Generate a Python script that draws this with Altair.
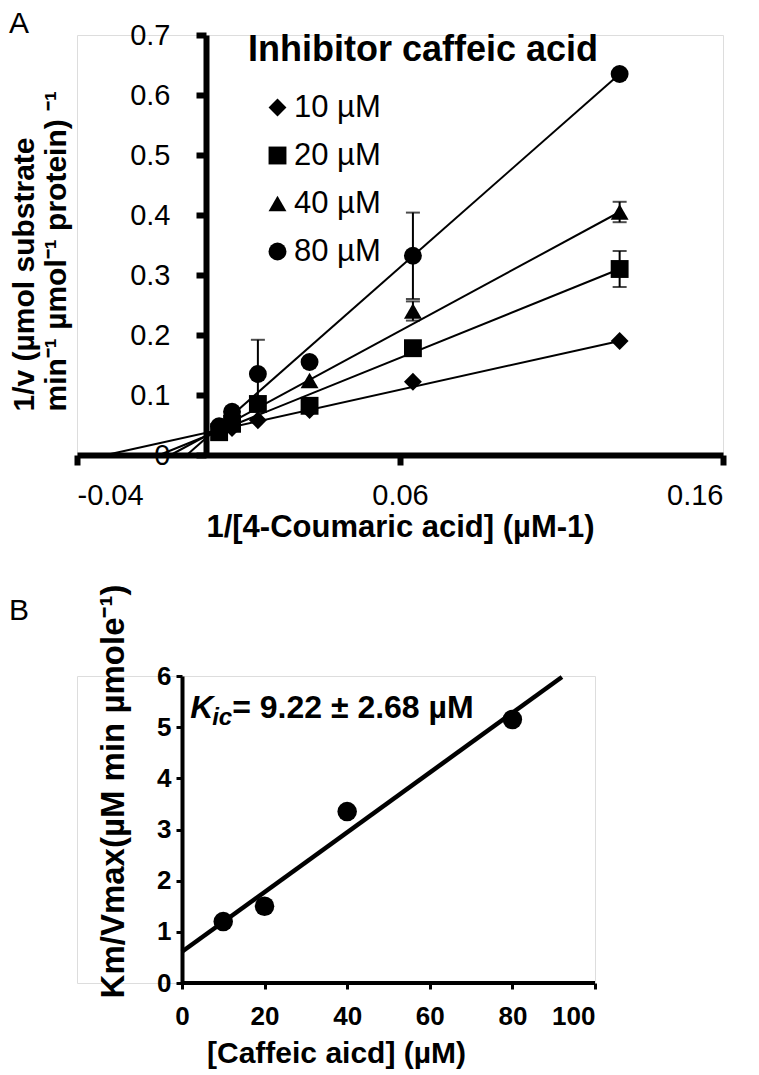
import altair as alt
import pandas as pd

# ---------------- Panel A data ----------------
inv_substrate = [0.004, 0.008, 0.016, 0.032, 0.064, 0.128]
series_labels = ["10 µM", "20 µM", "40 µM", "80 µM"]
series_shapes = ["diamond", "square", "triangle-up", "circle"]
inv_v_10 = [0.040, 0.045, 0.058, 0.075, 0.122, 0.190]
inv_v_20 = [0.038, 0.052, 0.085, 0.082, 0.178, 0.310]
inv_v_40 = [0.045, 0.060, 0.085, 0.124, 0.240, 0.405]
inv_v_80 = [0.048, 0.072, 0.135, 0.155, 0.332, 0.635]
err_10 = [0, 0, 0, 0, 0, 0]
err_20 = [0, 0, 0, 0, 0, 0.030]
err_40 = [0, 0, 0, 0, 0.016, 0.017]
err_80 = [0, 0, 0.057, 0, 0.072, 0]
fit_x_start = [-0.031, -0.0145, -0.011, -0.006]
fit_x_end = [0.128, 0.128, 0.128, 0.128]
fit_y_end = [0.190, 0.310, 0.405, 0.635]
x_ticks_a = [-0.04, 0.06, 0.16]
y_ticks_a = [0, 0.1, 0.2, 0.3, 0.4, 0.5, 0.6, 0.7]

# ---------------- Panel B data ----------------
caffeic = [10, 20, 40, 80]
km_vmax = [1.2, 1.5, 3.35, 5.15]
fit_b_x = [0, 92]
fit_b_y = [0.61, 5.98]
x_ticks_b = [0, 20, 40, 60, 80, 100]
y_ticks_b = [0, 1, 2, 3, 4, 5, 6]

FONT = "Liberation Sans"

# ---------- build tables ----------
vals = [inv_v_10, inv_v_20, inv_v_40, inv_v_80]
errs = [err_10, err_20, err_40, err_80]
rows = []
for lab, v, e in zip(series_labels, vals, errs):
    for x, y, err in zip(inv_substrate, v, e):
        rows.append({"x": x, "y": y, "series": lab, "lo": y - err, "hi": y + err, "err": err})
df_a = pd.DataFrame(rows)
df_err = df_a[df_a["err"] > 0]
df_fit = pd.DataFrame({
    "series": series_labels,
    "x0": fit_x_start, "y0": [0.0] * 4,
    "x1": fit_x_end, "y1": fit_y_end,
})

xs_a = alt.Scale(domain=[x_ticks_a[0], x_ticks_a[-1]], nice=False, zero=False)
ys_a = alt.Scale(domain=[y_ticks_a[0], y_ticks_a[-1]], nice=False, zero=False)

x_axis_a = alt.Axis(values=x_ticks_a, grid=False, domainWidth=6, domainColor="black",
                    labelExpr="datum.value < 0 ? '-' + format(-datum.value, '.2f') : format(datum.value, '.2f')",
                    tickWidth=6, tickSize=10, tickColor="black", labelFontSize=29, labelFont=FONT,
                    labelPadding=16, labelColor="black", title="1/[4-Coumaric acid] (µM-1)",
                    titleFont=FONT, titleFontSize=31, titleFontWeight="bold", titlePadding=2,
                    titleColor="black")
y_axis_a = alt.Axis(values=y_ticks_a, format=".1~f", grid=False, offset=-129, domainWidth=6,
                    domainColor="black", tickWidth=6, tickSize=10, tickColor="black",
                    labelFontSize=29, labelFont=FONT, labelPadding=26, labelColor="black",
                    title=["1/v (µmol substrate", "min⁻¹ µmol⁻¹ protein) ⁻¹"],
                    titleFont=FONT, titleFontSize=30, titleFontWeight="bold", titlePadding=58,
                    titleLineHeight=32, titleY=376, titleAlign="left", titleColor="black")

fits_a = alt.Chart(df_fit).mark_rule(color="black", strokeWidth=2).encode(
    x=alt.X("x0:Q", scale=xs_a, axis=x_axis_a),
    y=alt.Y("y0:Q", scale=ys_a, axis=y_axis_a),
    x2="x1:Q", y2="y1:Q",
)
err_rule = alt.Chart(df_err).mark_rule(color="black", strokeWidth=2).encode(
    x=alt.X("x:Q", scale=xs_a), y=alt.Y("lo:Q", scale=ys_a), y2="hi:Q")
cap_hi = alt.Chart(df_err).mark_tick(color="black", orient="horizontal", size=14, thickness=2).encode(
    x=alt.X("x:Q", scale=xs_a), y=alt.Y("hi:Q", scale=ys_a))
cap_lo = alt.Chart(df_err).mark_tick(color="black", orient="horizontal", size=14, thickness=2).encode(
    x=alt.X("x:Q", scale=xs_a), y=alt.Y("lo:Q", scale=ys_a))
pts_a = alt.Chart(df_a).mark_point(filled=True, color="black", opacity=1, size=320).encode(
    x=alt.X("x:Q", scale=xs_a),
    y=alt.Y("y:Q", scale=ys_a),
    shape=alt.Shape("series:N", scale=alt.Scale(domain=series_labels, range=series_shapes),
                    legend=alt.Legend(title="Inhibitor caffeic acid", orient="none", legendX=171, legendY=-2,
                                      titleFont=FONT, titleFontSize=36, titleFontWeight="bold",
                                      titleColor="black", titlePadding=23, titleLimit=800, labelFont=FONT,
                                      labelFontSize=31, labelColor="black", symbolSize=320,
                                      symbolFillColor="black", symbolStrokeColor="black",
                                      symbolOffset=14, labelOffset=1, rowPadding=16, padding=0)),
)

panel_a = alt.layer(fits_a, err_rule, cap_hi, cap_lo, pts_a).properties(
    width=646, height=420,
    title=alt.TitleParams("A", anchor="start", frame="group", dx=-68, fontSize=30, fontWeight="normal",
                          font=FONT, color="black", offset=-18),
)

# ---------------- Panel B ----------------
df_b = pd.DataFrame({"conc": caffeic, "kv": km_vmax})
df_fit_b = pd.DataFrame({"x0": [fit_b_x[0]], "y0": [fit_b_y[0]], "x1": [fit_b_x[1]], "y1": [fit_b_y[1]]})
df_axis_b = pd.DataFrame({"x0": [x_ticks_b[0]], "x1": [x_ticks_b[-1]], "y": [y_ticks_b[0]]})

xs_b = alt.Scale(domain=[-25.4, 100], nice=False, zero=False)
ys_b = alt.Scale(domain=[0, 6], nice=False, zero=False)

x_axis_b = alt.Axis(values=x_ticks_b, format="d", grid=False, domain=False, tickWidth=3, tickSize=6,
                    tickColor="black", labelFont=FONT, labelFontSize=26, labelFontWeight="bold",
                    labelColor="black", labelPadding=14, title="[Caffeic aicd] (µM)", titleFont=FONT,
                    titleFontSize=30, titleFontWeight="bold", titleColor="black", titlePadding=9)
y_axis_b = alt.Axis(values=y_ticks_b, format="d", grid=False, offset=-105, domainWidth=4,
                    domainColor="black", tickWidth=3, tickSize=6, tickColor="black",
                    labelFont=FONT, labelFontSize=26, labelFontWeight="bold", labelColor="black",
                    labelPadding=5, title="Km/Vmax(µM min µmole⁻¹)", titleFont=FONT,
                    titleFontSize=33, titleFontWeight="bold", titleColor="black", titlePadding=26,
                    titleY=115)

axis_line_b = alt.Chart(df_axis_b).mark_rule(color="black", strokeWidth=4).encode(
    x=alt.X("x0:Q", scale=xs_b, axis=x_axis_b), x2="x1:Q",
    y=alt.Y("y:Q", scale=ys_b, axis=y_axis_b))
fit_b = alt.Chart(df_fit_b).mark_rule(color="black", strokeWidth=4.5).encode(
    x=alt.X("x0:Q", scale=xs_b), y=alt.Y("y0:Q", scale=ys_b), x2="x1:Q", y2="y1:Q")
pts_b = alt.Chart(df_b).mark_circle(color="black", opacity=1, size=380).encode(
    x=alt.X("conc:Q", scale=xs_b), y=alt.Y("kv:Q", scale=ys_b))

ann_base = alt.Chart(pd.DataFrame({"a": [0]}))
k_text = ann_base.mark_text(text="K", align="left", baseline="alphabetic", font=FONT, fontSize=32,
                            fontWeight="bold", fontStyle="italic", color="black").encode(
    x=alt.datum(2, scale=xs_b), y=alt.datum(5.18, scale=ys_b))
ic_text = ann_base.mark_text(text="ic", align="left", baseline="alphabetic", font=FONT, fontSize=24,
                             fontWeight="bold", fontStyle="italic", color="black", dx=22, dy=7).encode(
    x=alt.datum(2, scale=xs_b), y=alt.datum(5.18, scale=ys_b))
eq_text = ann_base.mark_text(text="= 9.22 ± 2.68 µM", align="left", baseline="alphabetic", font=FONT,
                             fontSize=32, fontWeight="bold", color="black", dx=42).encode(
    x=alt.datum(2, scale=xs_b), y=alt.datum(5.18, scale=ys_b))

panel_b = alt.layer(axis_line_b, fit_b, pts_b, k_text, ic_text, eq_text).properties(
    width=518, height=307,
    title=alt.TitleParams("B", anchor="start", frame="group", dx=-68, fontSize=30, fontWeight="normal",
                          font=FONT, color="black", offset=-42),
)

chart = alt.vconcat(panel_a, panel_b, spacing=40).properties(padding=0).configure_view(
    stroke=None).configure(background="white", font=FONT)

chart.save("out.html", embed_options={"renderer": "svg", "actions": False})
